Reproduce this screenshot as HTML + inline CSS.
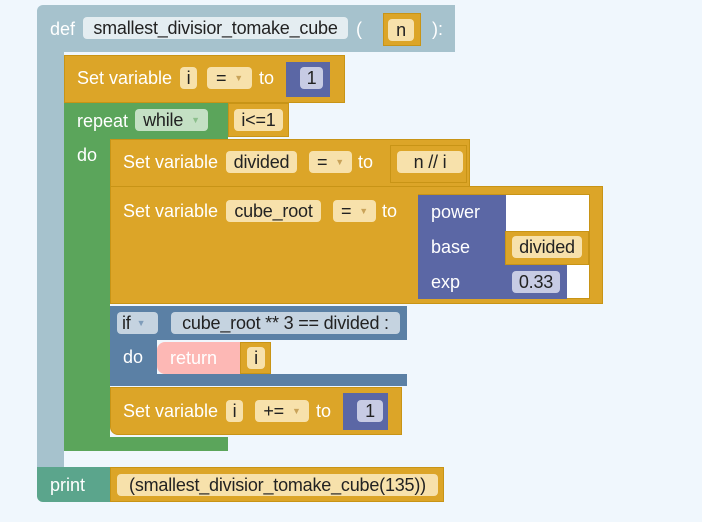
<!DOCTYPE html>
<html><head><meta charset="utf-8"><style>
body{margin:0;width:702px;height:522px;background:#f0f7fd;position:relative;overflow:hidden;font-family:"Liberation Sans",sans-serif;font-size:18px}
div{position:absolute;box-sizing:border-box}
.t{color:#fff;white-space:nowrap;line-height:22px}
.f{border-radius:4px;color:#222;line-height:22px;text-align:center;white-space:nowrap;height:22px;letter-spacing:-0.2px}
.g{background:#dca528;border:1px solid #c89416}
.gf{background:#f7e1ab}
.b{background:#5b67a5}
.bf{background:#c7cbe4}
.ar{color:#c9a35a;font-size:9px;vertical-align:3px;margin-left:8px}
</style></head><body>
<!-- def block -->
<div style="left:37px;top:5px;width:418px;height:47px;background:#a6c2cd;border-radius:6px 0 0 0"></div>
<div style="left:37px;top:40px;width:27px;height:440px;background:#a6c2cd"></div>
<div class="t" style="left:50px;top:18px">def</div>
<div class="f" style="left:83px;top:17px;width:265px;background:#e4edf1">smallest_divisior_tomake_cube</div>
<div class="t" style="left:356px;top:18px">(</div>
<div class="g" style="left:383px;top:13px;width:38px;height:33px"></div>
<div class="f gf" style="left:388px;top:19px;width:26px">n</div>
<div class="t" style="left:432px;top:18px">):</div>

<!-- set i -->
<div class="g" style="left:64px;top:55px;width:281px;height:48px"></div>
<div class="t" style="left:77px;top:67px">Set variable</div>
<div class="f gf" style="left:180px;top:67px;width:17px">i</div>
<div class="f gf" style="left:207px;top:67px;width:45px">=<span class="ar">▼</span></div>
<div class="t" style="left:259px;top:67px">to</div>
<div class="b" style="left:286px;top:62px;width:44px;height:35px"></div>
<div class="f bf" style="left:300px;top:67px;width:23px">1</div>

<!-- repeat -->
<div style="left:64px;top:103px;width:164px;height:37px;background:#5ba55b"></div>
<div style="left:64px;top:103px;width:46px;height:348px;background:#5ba55b"></div>
<div style="left:64px;top:437px;width:164px;height:14px;background:#5ba55b"></div>
<div class="t" style="left:77px;top:110px">repeat</div>
<div class="f" style="left:135px;top:109px;width:73px;background:#c4e0c4">while<span class="ar" style="color:#8cbf8c">▼</span></div>
<div class="g" style="left:228px;top:103px;width:61px;height:34px"></div>
<div class="f gf" style="left:234px;top:109px;width:49px">i&lt;=1</div>
<div class="t" style="left:77px;top:144px">do</div>

<!-- set divided -->
<div class="g" style="left:110px;top:139px;width:360px;height:48px"></div>
<div class="t" style="left:123px;top:151px">Set variable</div>
<div class="f gf" style="left:226px;top:151px;width:71px">divided</div>
<div class="f gf" style="left:309px;top:151px;width:43px">=<span class="ar">▼</span></div>
<div class="t" style="left:358px;top:151px">to</div>
<div class="g" style="left:390px;top:145px;width:77px;height:38px"></div>
<div class="f gf" style="left:397px;top:151px;width:66px">n // i</div>

<!-- set cube_root -->
<div class="g" style="left:110px;top:186px;width:493px;height:118px"></div>
<div style="left:418px;top:194px;width:172px;height:105px;background:#fff;border:1px solid #c89416"></div>
<div class="t" style="left:123px;top:200px">Set variable</div>
<div class="f gf" style="left:226px;top:200px;width:95px">cube_root</div>
<div class="f gf" style="left:333px;top:200px;width:43px">=<span class="ar">▼</span></div>
<div class="t" style="left:382px;top:200px">to</div>
<div class="b" style="left:418px;top:195px;width:88px;height:104px"></div>
<div class="t" style="left:431px;top:201px">power</div>
<div class="t" style="left:431px;top:236px">base</div>
<div class="t" style="left:431px;top:271px">exp</div>
<div class="g" style="left:505px;top:231px;width:84px;height:34px"></div>
<div class="f gf" style="left:512px;top:236px;width:70px">divided</div>
<div class="b" style="left:505px;top:265px;width:62px;height:34px"></div>
<div class="f bf" style="left:512px;top:271px;width:48px">0.33</div>

<!-- if -->
<div style="left:110px;top:306px;width:297px;height:34px;background:#5b80a5"></div>
<div style="left:110px;top:306px;width:47px;height:80px;background:#5b80a5"></div>
<div style="left:110px;top:374px;width:297px;height:12px;background:#5b80a5"></div>
<div class="f" style="left:117px;top:312px;width:41px;background:#c5d3e0;text-align:left;padding-left:5px">if<span class="ar" style="color:#7f9cba;margin-left:6px">▼</span></div>
<div class="f" style="left:171px;top:312px;width:229px;background:#c5d3e0">cube_root ** 3 == divided :</div>
<div class="t" style="left:123px;top:346px">do</div>
<div style="left:157px;top:342px;width:85px;height:32px;background:#fdb8b5;border-radius:8px 0 0 8px"></div>
<div class="t" style="left:170px;top:347px">return</div>
<div class="g" style="left:240px;top:342px;width:31px;height:32px"></div>
<div class="f gf" style="left:247px;top:347px;width:18px">i</div>

<!-- set i += -->
<div class="g" style="left:110px;top:387px;width:292px;height:48px;border-radius:0 0 0 8px"></div>
<div class="t" style="left:123px;top:400px">Set variable</div>
<div class="f gf" style="left:226px;top:400px;width:17px">i</div>
<div class="f gf" style="left:255px;top:400px;width:54px">+=<span class="ar">▼</span></div>
<div class="t" style="left:316px;top:400px">to</div>
<div class="b" style="left:343px;top:393px;width:45px;height:37px"></div>
<div class="f bf" style="left:357px;top:400px;width:26px">1</div>

<!-- print -->
<div style="left:37px;top:467px;width:74px;height:35px;background:#5ba58c;border-radius:0 0 0 6px"></div>
<div class="t" style="left:50px;top:474px">print</div>
<div class="g" style="left:110px;top:467px;width:334px;height:35px"></div>
<div class="f gf" style="left:117px;top:474px;width:321px">(smallest_divisior_tomake_cube(135))</div>
</body></html>
